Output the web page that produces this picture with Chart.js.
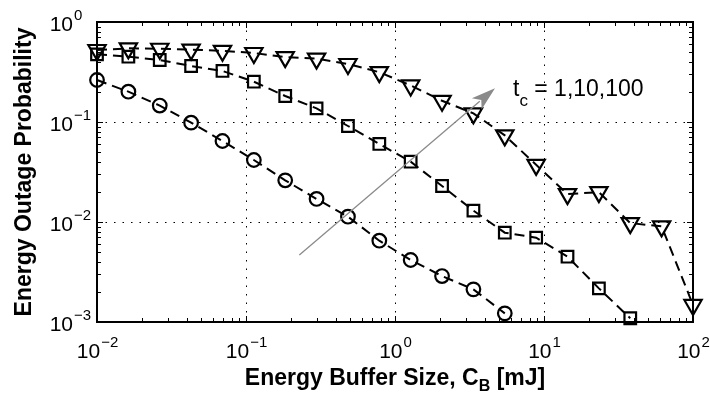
<!DOCTYPE html>
<html>
<head>
<meta charset="utf-8">
<script src="https://cdn.jsdelivr.net/npm/chart.js@4.4.0/dist/chart.umd.min.js"></script>
<style>
  html, body { margin: 0; padding: 0; background: #fff; }
  #wrap { width: 710px; height: 401px; }
</style>
</head>
<body>
<div id="wrap"><canvas id="chart" width="710" height="401"></canvas></div>
<script>
// buffer sizes C_B [mJ] (shared by all three curves)
const bufferSizes = [0.01, 0.01624, 0.02637, 0.04281, 0.06952, 0.1129, 0.1833, 0.2976, 0.4833, 0.7848,
                     1.274, 2.069, 3.360, 5.456, 8.859, 14.38, 23.36, 37.93, 61.58, 100];

// outage probability for t_c = 1, 10, 100
const outageTc1 = [0.263, 0.201, 0.146, 0.0985, 0.0646, 0.0417, 0.0261, 0.017, 0.0113, 0.0065,
                   0.00417, 0.00288, 0.00212, 0.00122];
const outageTc10 = [0.475, 0.45, 0.417, 0.363, 0.324, 0.253, 0.182, 0.137, 0.0912, 0.0603,
                    0.0401, 0.0229, 0.013, 0.00782, 0.00697, 0.0045, 0.00217, 0.00109];
const outageTc100 = [0.525, 0.545, 0.54, 0.53, 0.515, 0.49, 0.445, 0.43, 0.38, 0.315,
                     0.232, 0.163, 0.122, 0.0735, 0.0373, 0.019, 0.0199, 0.00975, 0.00905, 0.00148];

const xTickExps = [-2, -1, 0, 1, 2];
const yTickExps = [-3, -2, -1, 0];

// arrow annotation, data coordinates [x, y]
const arrowFrom = [0.228, 0.00468];
const arrowTo = [4.69, 0.217];
const arrowLabel = '1,10,100';

function toPoints(ys) {
    return ys.map((y, i) => ({ x: bufferSizes[i], y: y }));
}

function series(ys, style, radius, rotation) {
    return {
        data: toPoints(ys),
        borderColor: '#000',
        borderWidth: 2,
        borderDash: [10, 6],
        fill: false,
        tension: 0,
        clip: false,
        pointStyle: style,
        pointRadius: radius,
        pointRotation: rotation,
        pointBorderWidth: 2.2,
        pointBorderColor: '#000',
        pointBackgroundColor: 'rgba(0,0,0,0)'
    };
}

const tickFont = '21px "Liberation Sans", Arial, sans-serif';
const expFont = '15px "Liberation Sans", Arial, sans-serif';
const titleFont = 'bold 23px "Liberation Sans", Arial, sans-serif';
const titleSubFont = 'bold 16px "Liberation Sans", Arial, sans-serif';

// box, inner ticks, dotted decade grid, power labels, titles, arrow
const axesPlugin = {
    id: 'matlabAxes',
    beforeDatasetsDraw(chart) {
        const ctx = chart.ctx;
        const a = chart.chartArea;
        const xs = chart.scales.x, ys = chart.scales.y;
        ctx.save();
        // grid
        ctx.strokeStyle = '#000';
        ctx.lineWidth = 1;
        ctx.setLineDash([1.5, 7]);
        xTickExps.slice(1, -1).forEach(e => {
            const px = Math.round(xs.getPixelForValue(Math.pow(10, e))) + 0.5;
            ctx.beginPath(); ctx.moveTo(px, a.top); ctx.lineTo(px, a.bottom); ctx.stroke();
        });
        yTickExps.slice(1, -1).forEach(e => {
            const py = Math.round(ys.getPixelForValue(Math.pow(10, e))) + 0.5;
            ctx.beginPath(); ctx.moveTo(a.left, py); ctx.lineTo(a.right, py); ctx.stroke();
        });
        ctx.setLineDash([]);
        // ticks
        ctx.lineWidth = 1;
        for (let e = xTickExps[0]; e < xTickExps[xTickExps.length - 1]; e++) {
            for (let m = 1; m <= 9; m++) {
                const px = Math.round(xs.getPixelForValue(m * Math.pow(10, e))) + 0.5;
                const len = m === 1 ? 6 : 4;
                ctx.beginPath();
                ctx.moveTo(px, a.bottom); ctx.lineTo(px, a.bottom - len);
                ctx.moveTo(px, a.top); ctx.lineTo(px, a.top + len);
                ctx.stroke();
            }
        }
        for (let e = yTickExps[0]; e < yTickExps[yTickExps.length - 1]; e++) {
            for (let m = 1; m <= 9; m++) {
                const py = Math.round(ys.getPixelForValue(m * Math.pow(10, e))) + 0.5;
                const len = m === 1 ? 6 : 4;
                ctx.beginPath();
                ctx.moveTo(a.left, py); ctx.lineTo(a.left + len, py);
                ctx.moveTo(a.right, py); ctx.lineTo(a.right - len, py);
                ctx.stroke();
            }
        }
        // box
        ctx.lineWidth = 2;
        ctx.strokeRect(a.left, a.top, a.right - a.left, a.bottom - a.top);

        // tick labels 10^n
        ctx.fillStyle = '#000';
        ctx.textBaseline = 'alphabetic';
        xTickExps.forEach(e => {
            const px = xs.getPixelForValue(Math.pow(10, e));
            const exp = e < 0 ? '\u2212' + (-e) : String(e);
            ctx.font = tickFont;
            const wb = ctx.measureText('10').width;
            ctx.font = expFont;
            const we = ctx.measureText(exp).width;
            const x0 = px - (wb + we) / 2;
            ctx.font = tickFont;
            ctx.textAlign = 'left';
            ctx.fillText('10', x0, a.bottom + 36);
            ctx.font = expFont;
            ctx.fillText(exp, x0 + wb + 1, a.bottom + 25);
        });
        yTickExps.forEach(e => {
            const py = ys.getPixelForValue(Math.pow(10, e));
            const exp = e < 0 ? '\u2212' + (-e) : String(e);
            ctx.font = tickFont;
            ctx.textAlign = 'right';
            ctx.fillText('10', a.left - 24, py + 9);
            ctx.font = expFont;
            ctx.textAlign = 'left';
            ctx.fillText(exp, a.left - 23, py - 2);
        });

        // x title with subscript
        const parts = [['Energy Buffer Size, C', titleFont, 0], ['B', titleSubFont, 6], [' [mJ]', titleFont, 0]];
        let total = 0;
        parts.forEach(p => { ctx.font = p[1]; total += ctx.measureText(p[0]).width; });
        let tx = (a.left + a.right) / 2 - total / 2;
        parts.forEach(p => {
            ctx.font = p[1];
            ctx.fillText(p[0], tx, 385 + p[2]);
            tx += ctx.measureText(p[0]).width;
        });
        // y title
        ctx.save();
        ctx.translate(31, (a.top + a.bottom) / 2);
        ctx.rotate(-Math.PI / 2);
        ctx.font = titleFont;
        ctx.textAlign = 'center';
        ctx.fillText('Energy Outage Probability', 0, 0);
        ctx.restore();
        ctx.restore();
    },
    afterDatasetsDraw(chart) {
        const ctx = chart.ctx;
        const xs = chart.scales.x, ys = chart.scales.y;
        const x1 = xs.getPixelForValue(arrowFrom[0]), y1 = ys.getPixelForValue(arrowFrom[1]);
        const x2 = xs.getPixelForValue(arrowTo[0]), y2 = ys.getPixelForValue(arrowTo[1]);
        const ang = Math.atan2(y2 - y1, x2 - x1);
        const headLen = 24, headHalf = 7.5;
        const bx = x2 - headLen * Math.cos(ang), by = y2 - headLen * Math.sin(ang);
        ctx.save();
        ctx.strokeStyle = '#8a8a8a';
        ctx.fillStyle = '#8a8a8a';
        ctx.lineWidth = 1.3;
        ctx.beginPath(); ctx.moveTo(x1, y1); ctx.lineTo(bx + 4 * Math.cos(ang), by + 4 * Math.sin(ang)); ctx.stroke();
        ctx.beginPath();
        ctx.moveTo(x2, y2);
        ctx.lineTo(bx + headHalf * Math.sin(ang), by - headHalf * Math.cos(ang));
        ctx.lineTo(bx + 6 * Math.cos(ang), by + 6 * Math.sin(ang));
        ctx.lineTo(bx - headHalf * Math.sin(ang), by + headHalf * Math.cos(ang));
        ctx.closePath();
        ctx.fill();

        // label t_c = 1,10,100
        ctx.fillStyle = '#000';
        ctx.textAlign = 'left';
        ctx.textBaseline = 'alphabetic';
        let lx = x2 + 18, ly = y2 + 8;
        ctx.font = '23px "Liberation Sans", Arial, sans-serif';
        ctx.fillText('t', lx, ly);
        lx += ctx.measureText('t').width;
        ctx.font = '17px "Liberation Sans", Arial, sans-serif';
        ctx.fillText('c', lx, ly + 10);
        lx += ctx.measureText('c').width;
        ctx.font = '23px "Liberation Sans", Arial, sans-serif';
        ctx.fillText(' = ' + arrowLabel, lx, ly);
        ctx.restore();
    }
};

new Chart(document.getElementById('chart').getContext('2d'), {
    type: 'line',
    data: {
        datasets: [
            series(outageTc1, 'circle', 6.8, 0),
            series(outageTc10, 'rect', 8.2, 0),
            series(outageTc100, 'triangle', 10, 180)
        ]
    },
    options: {
        responsive: false,
        animation: false,
        events: [],
        layout: { padding: { left: 0, top: 22, right: 17, bottom: 0 } },
        plugins: { legend: { display: false }, tooltip: { enabled: false } },
        scales: {
            x: {
                type: 'logarithmic',
                min: 0.01,
                max: 100,
                ticks: { display: false },
                grid: { display: false },
                border: { display: false },
                afterFit: s => { s.height = 79; }
            },
            y: {
                type: 'logarithmic',
                min: 0.001,
                max: 1,
                ticks: { display: false },
                grid: { display: false },
                border: { display: false },
                afterFit: s => { s.width = 97; }
            }
        }
    },
    plugins: [axesPlugin]
});
</script>
</body>
</html>
